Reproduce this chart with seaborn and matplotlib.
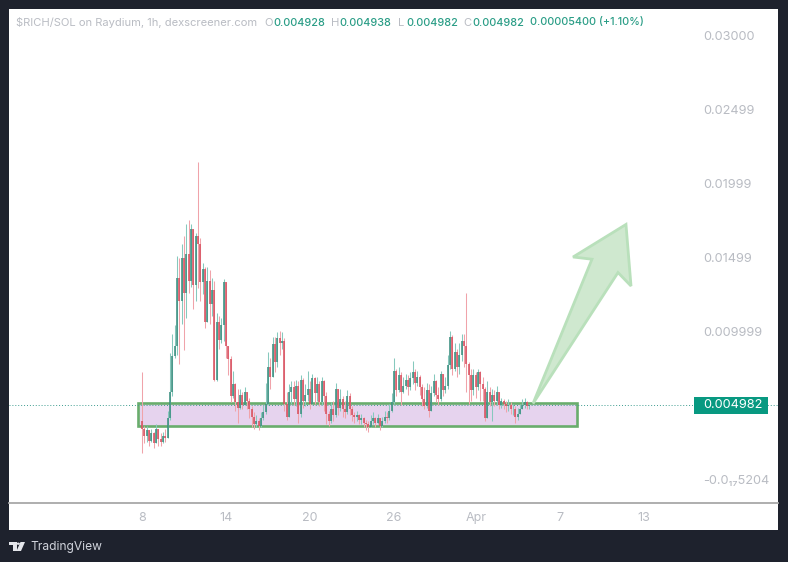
import numpy as np
import pandas as pd
import matplotlib
matplotlib.use("Agg")
import matplotlib.pyplot as plt
from matplotlib.patches import Rectangle, Polygon, Circle
import seaborn as sns

# 4-hour candles, prices in thousandths of SOL
closes = [3.40,2.90,3.30,2.60,3.10,2.40,3.40,2.70,2.50,2.90,
          2.80,4.10,5.90,8.30,9.00,13.6,12.0,14.9,12.6,15.2,
          13.4,16.9,13.1,16.4,15.9,13.3,14.2,10.6,13.4,11.8,
          12.8,6.7,10.6,9.4,10.4,13.3,9.0,8.1,5.6,6.4,
          5.2,4.8,5.7,5.0,5.9,5.3,4.7,4.2,3.7,3.9,
          3.6,4.1,4.5,5.1,7.6,6.9,9.1,7.9,9.5,9.2,
          9.3,5.1,4.2,5.9,6.2,5.4,6.3,4.4,6.7,5.3,
          5.7,6.1,5.1,6.8,5.8,6.4,5.2,6.6,5.6,4.4,
          3.9,4.7,4.3,6.1,4.8,5.4,4.7,4.5,5.6,4.7,
          4.3,4.2,4.3,4.0,4.1,3.8,3.7,3.5,3.9,4.1,
          3.8,4.1,3.6,3.9,4.2,4.1,4.6,5.2,7.3,6.0,
          7.0,5.9,6.3,6.7,6.2,6.8,7.2,6.5,6.9,6.2,
          5.4,4.9,6.0,4.6,5.8,6.6,5.7,5.4,7.1,6.0,
          6.3,7.7,9.6,7.4,8.6,7.6,8.4,9.3,9.0,7.8,
          7.0,6.0,7.0,6.2,7.2,6.4,6.1,4.1,5.9,5.2,
          5.7,5.3,5.9,5.0,5.3,5.1,4.9,5.0,4.7,4.7,
          4.2,4.4,4.7,5.0,5.2,4.9,4.982]
highs = [7.20,3.60,3.60,3.30,3.40,3.20,3.70,3.30,3.10,3.20,
         3.40,4.60,8.50,9.80,10.4,15.1,14.9,15.9,16.4,17.2,
         17.5,17.2,14.8,16.6,21.4,16.3,14.6,14.3,14.3,14.1,
         13.6,13.4,11.2,11.0,10.9,13.5,9.8,9.0,8.3,7.3,
         6.5,6.1,6.1,5.9,6.2,5.9,5.5,4.9,4.5,4.3,
         4.1,4.5,5.0,6.5,8.6,8.2,9.6,9.6,9.9,10.0,
         9.9,9.5,5.9,6.4,6.6,6.6,6.7,6.6,7.0,6.8,
         6.4,7.3,6.6,7.1,6.9,6.9,6.6,6.9,6.7,5.9,
         4.6,5.2,5.3,6.5,6.1,6.1,5.6,5.3,6.0,5.8,
         4.9,4.5,4.6,4.4,4.4,4.2,4.0,3.9,4.3,4.5,
         4.2,4.4,4.1,4.2,4.6,4.5,5.1,5.8,8.2,7.4,
         7.6,7.2,6.9,7.1,7.0,7.2,8.0,7.4,7.3,7.0,
         6.4,6.2,6.5,6.4,6.3,7.1,6.7,6.2,7.3,6.6,
         6.9,8.4,10.0,9.7,9.2,8.8,9.2,9.8,9.8,12.6,
         7.9,7.4,7.4,7.2,7.4,7.3,6.9,6.2,6.6,6.2,
         6.1,6.0,6.3,5.5,5.5,5.4,5.3,5.4,5.2,5.1,
         4.9,4.8,5.1,5.4,5.5,5.3,5.1]
lows = [1.75,2.40,2.50,2.20,2.50,2.10,2.60,2.20,2.20,2.40,
        2.50,2.90,4.00,5.60,8.20,8.40,7.80,10.5,8.70,10.9,
        12.6,13.0,11.5,12.0,12.9,12.0,12.5,10.2,10.9,10.5,
        11.0,6.6,6.6,8.8,9.2,9.3,8.2,7.0,5.2,5.5,
        4.6,3.8,4.7,4.7,5.1,4.7,4.1,3.5,3.4,3.5,
        3.3,3.5,4.0,4.4,5.0,6.1,6.9,7.2,7.6,8.4,
        8.8,4.6,4.0,4.3,5.1,5.0,4.9,3.8,4.2,4.8,
        4.9,5.3,4.7,5.1,5.1,5.3,4.9,5.0,4.6,3.7,
        3.6,3.8,3.9,4.2,4.3,4.6,4.2,4.1,4.4,4.3,
        3.9,3.8,3.9,3.7,3.7,3.5,3.3,3.2,3.5,3.7,
        3.5,3.7,3.3,3.5,3.8,3.8,4.0,4.5,5.1,5.6,
        5.9,5.0,5.8,6.1,5.7,6.0,6.4,6.0,6.3,5.7,
        4.9,4.7,4.8,4.2,4.7,5.6,5.2,5.0,5.3,5.6,
        5.8,6.1,7.4,7.0,7.3,6.9,7.1,8.0,7.6,5.9,
        5.1,5.3,5.7,5.5,6.0,5.3,5.3,3.9,4.2,4.9,
        3.9,4.9,5.0,4.7,4.8,4.7,4.5,4.6,4.4,4.3,
        3.8,4.0,4.4,4.7,4.8,4.7,4.7]
first_open = 3.9
bars_per_day = 6

last_price = 4.982
price_ticks = [30.00, 24.99, 19.99, 14.99, 9.999, 0.0]
price_tick_labels = ["0.03000", "0.02499", "0.01999", "0.01499", "0.009999", "-0.0\u2081\u20875204"]
day_tick_labels = ["8", "14", "20", "26", "Apr", "7", "13"]
day_ticks = [0, 6, 12, 18, 23.9, 29.85, 35.85]

zone_days = (-0.29, 31.07)
zone_prices = (3.58, 5.135)
arrow_days = [27.93, 32.14, 30.79, 34.57, 34.93, 34.0]
arrow_prices = [5.1, 14.85, 15.0, 17.2, 13.04, 13.95]

header_parts = [("$RICH/SOL on Raydium, 1h, dexscreener.com", 16, "g"),
                ("O", 264, "g"), ("0.004928", 273, "t"),
                ("H", 331, "g"), ("0.004938", 339, "t"),
                ("L", 398, "g"), ("0.004982", 406, "t"),
                ("C", 463, "g"), ("0.004982", 472, "t"),
                ("0.00005400 (+1.10%)", 530, "t")]

DARK = "#1e222d"
TEAL = "#089981"
GRAY = "#b9bcc3"
FONT = ["Inter", "DejaVu Sans"]

sns.set_theme(style="white")
plt.rcParams["font.family"] = FONT

W, H = 788, 562
fig = plt.figure(figsize=(W / 100, H / 100), dpi=100, facecolor=DARK)
ax = fig.add_axes([9 / W, 1 - 503 / H, (778 - 9) / W, (503 - 9) / H], facecolor="white")


def fx(px):
    return px / W


def fy(py):
    return 1 - py / H


# white strip holding the time axis
fig.add_artist(Rectangle((fx(9), fy(530)), 769 / W, 27 / H, transform=fig.transFigure,
                         facecolor="white", edgecolor="none", zorder=-1))

# candles
closes_a = np.array(closes)
opens_a = np.concatenate([[first_open], closes_a[:-1]])
highs_a = np.maximum(np.array(highs), np.maximum(opens_a, closes_a))
lows_a = np.minimum(np.array(lows), np.minimum(opens_a, closes_a))
day = np.arange(len(closes_a)) / bars_per_day
up = closes_a >= opens_a
candles = pd.DataFrame(dict(day=day, o=opens_a, c=closes_a, h=highs_a, l=lows_a,
                            side=np.where(up, "up", "down"), bar=np.arange(len(day))))
wicks = candles.melt(id_vars=["day", "side", "bar"], value_vars=["l", "h"], value_name="price")
bodies = candles.melt(id_vars=["day", "side", "bar"], value_vars=["o", "c"], value_name="price")

ax.add_patch(Rectangle((zone_days[0], zone_prices[0]), zone_days[1] - zone_days[0],
                       zone_prices[1] - zone_prices[0], facecolor="#e6d3ee",
                       edgecolor="#69ad6c", linewidth=1.9, zorder=1))
ax.axhline(last_price, color="#3f9d90", linestyle=(0, (1, 2)), linewidth=0.7, zorder=1.5)

sns.lineplot(data=wicks, x="day", y="price", hue="side", units="bar", estimator=None, sort=False,
             palette={"up": "#86c9bd", "down": "#f0a3aa"}, linewidth=0.75, legend=False,
             solid_capstyle="butt", zorder=2, ax=ax)
sns.lineplot(data=bodies, x="day", y="price", hue="side", units="bar", estimator=None, sort=False,
             palette={"up": "#3c8f80", "down": "#d8505f"}, linewidth=1.15, legend=False,
             solid_capstyle="butt", zorder=3, ax=ax)

ax.add_patch(Polygon(np.column_stack([arrow_days, arrow_prices]), closed=True,
                     facecolor="#cfe8cf", edgecolor="#b9e0bb", linewidth=2.0, zorder=4,
                     joinstyle="miter"))

ax.set_xlim((9 - 142) / 14, (778 - 142) / 14)
ax.set_ylim((479 - 503) * 5 / 74, (479 - 9) * 5 / 74)
ax.set_xlabel("")
ax.set_ylabel("")
ax.grid(False)
for name, spine in ax.spines.items():
    spine.set_visible(name == "bottom")
ax.spines["bottom"].set_color("#a8a8a8")
ax.spines["bottom"].set_linewidth(1.3)

ax.set_xticks(day_ticks, day_tick_labels)
ax.tick_params(axis="x", length=0, pad=6.5, labelsize=9, labelcolor=GRAY)
ax.yaxis.tick_right()
ax.set_yticks(price_ticks, price_tick_labels)
ax.tick_params(axis="y", length=0, pad=-54, labelsize=9.2, labelcolor=GRAY)
for t in ax.get_yticklabels():
    t.set_horizontalalignment("left")

# last price tag
fig.add_artist(Rectangle((fx(694), fy(414)), 74 / W, 17 / H, transform=fig.transFigure,
                         facecolor=TEAL, edgecolor="none", zorder=5))
fig.text(fx(703), fy(405.5), "0.004982", color="white", fontsize=9.2, va="center", ha="left", zorder=6)

# header
for s, px, kind in header_parts:
    fig.text(fx(px), fy(22.5), s, color=GRAY if kind == "g" else "#2a9d86", fontsize=8.05 if kind == "g" else 7.8,
             va="center", ha="left", fontweight="medium" if kind == "t" else "normal")

# TradingView footer
logo = "#e4e6eb"
fig.add_artist(Polygon([(fx(9), fy(542)), (fx(16.5), fy(542)), (fx(16.5), fy(551)), (fx(13), fy(551)),
                        (fx(13), fy(545)), (fx(9), fy(545))], closed=True, transform=fig.transFigure,
                       facecolor=logo, edgecolor="none"))
fig.add_artist(Polygon([(fx(20.5), fy(542)), (fx(25), fy(542)), (fx(21), fy(551)), (fx(16.5), fy(551))],
                       closed=True, transform=fig.transFigure, facecolor=logo, edgecolor="none"))
fig.add_artist(Circle((fx(18.3), fy(543.7)), 1.6 / W, transform=fig.transFigure,
                      facecolor=logo, edgecolor="none"))
fig.text(fx(30), fy(547), "TradingView", color="#d1d4dc", fontsize=8.65, va="center", ha="left")

fig.savefig("out.png", dpi=100, facecolor=DARK)
